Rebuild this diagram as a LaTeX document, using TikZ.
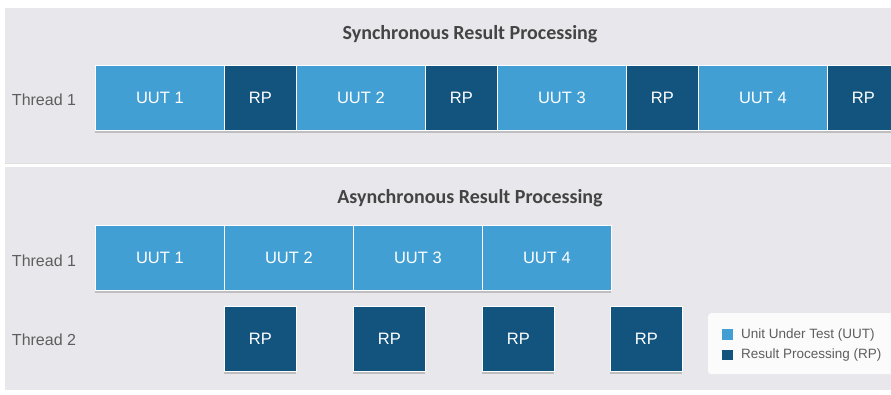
\documentclass[tikz,border=0pt]{standalone}
\usepackage{fontspec}
\setmainfont{Liberation Sans}
\newfontfamily\titlefont{Carlito}
\usetikzlibrary{shadows}
\definecolor{uutc}{HTML}{429FD4}
\definecolor{rpc}{HTML}{13547F}
\definecolor{panel}{HTML}{E8E8EC}
\definecolor{txt}{HTML}{5E5E5E}
\definecolor{ttl}{HTML}{444444}
\begin{document}
\begin{tikzpicture}[x=1pt,y=-1pt,
  blk/.style={draw=white, line width=0.8pt, minimum height=65pt, anchor=north west,
    inner sep=0pt, text=white, font=\fontsize{16.5}{18}\selectfont,
    drop shadow={shadow xshift=0pt, shadow yshift=-2.5pt, opacity=0.18, fill=black}},
  uut/.style={blk, fill=uutc, minimum width=129pt},
  rp/.style={blk, fill=rpc, minimum width=72pt},
  thr/.style={text=txt, font=\fontsize{16}{18}\selectfont},
  ttlst/.style={text=ttl, font=\titlefont\bfseries\fontsize{20}{22}\selectfont},
  leg/.style={text=txt, font=\fontsize{13.5}{16}\selectfont, anchor=west, inner sep=0pt},
  legsq/.style={minimum size=10.5pt, inner sep=0pt, anchor=center}
]
\useasboundingbox (0,0) rectangle (891,394);
\clip (0,0) rectangle (891,394);
\fill[white] (0,0) rectangle (891,394);
% panels
\fill[panel] (5,8) rectangle (891,163);
\draw[black!12, line width=0.8pt] (5,163.5) -- (891,163.5);
\fill[panel] (5,167) rectangle (891,390);

% synchronous
\node[ttlst] (t1) at (470,34) {Synchronous Result Processing};
\node[thr] (s1) at (44,99.5) {Thread 1};
\node[uut] (su1) at (95,65) {UUT 1};
\node[rp]  (sr1) at (224,65) {RP};
\node[uut] (su2) at (296,65) {UUT 2};
\node[rp]  (sr2) at (425,65) {RP};
\node[uut] (su3) at (497,65) {UUT 3};
\node[rp]  (sr3) at (626,65) {RP};
\node[uut] (su4) at (698,65) {UUT 4};
\node[rp]  (sr4) at (827,65) {RP};

% asynchronous
\node[ttlst] (t2) at (470,198) {Asynchronous Result Processing};
\node[thr] (a1) at (44,261) {Thread 1};
\node[thr] (a2) at (44,340) {Thread 2};
\node[uut] (au1) at (95,225) {UUT 1};
\node[uut] (au2) at (224,225) {UUT 2};
\node[uut] (au3) at (353,225) {UUT 3};
\node[uut] (au4) at (482,225) {UUT 4};
\node[rp]  (ar1) at (224,306) {RP};
\node[rp]  (ar2) at (353,306) {RP};
\node[rp]  (ar3) at (482,306) {RP};
\node[rp]  (ar4) at (610,306) {RP};

% legend
\node[draw=none, fill=white, fill opacity=0.85, rounded corners=3pt, anchor=north west,
  minimum width=190pt, minimum height=61pt, inner sep=0pt] (lg) at (708,313) {};
\node[legsq, fill=uutc] (lq1) at (727.5,334.5) {};
\node[legsq, fill=rpc] (lq2) at (727.5,355) {};
\node[leg] (lt1) at (741,334.5) {Unit Under Test (UUT)};
\node[leg] (lt2) at (741,355) {Result Processing (RP)};
\end{tikzpicture}
\end{document}
